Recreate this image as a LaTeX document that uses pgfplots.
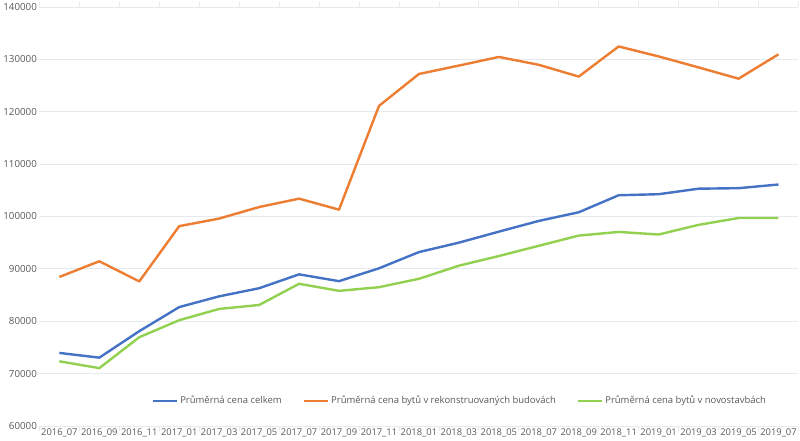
\documentclass[border=0pt]{standalone}
\usepackage{fontspec}
\setmainfont{Open Sans}
\usepackage{pgfplots}
\pgfplotsset{compat=1.18}
\definecolor{cblue}{HTML}{4472C4}
\definecolor{corange}{HTML}{ED7D31}
\definecolor{cgreen}{HTML}{92D050}
\definecolor{ctext}{HTML}{595959}
\definecolor{cgrid}{HTML}{E6E9EE}
\newcommand{\us}{\textunderscore}
\begin{document}
\begin{tikzpicture}
\begin{axis}[
  scale only axis,
  width=758bp, height=418.5bp,
  xmin=-0.5, xmax=18.5,
  ymin=60000, ymax=140000,
  scaled y ticks=false,
  scaled x ticks=false,
  ytick={60000,70000,80000,90000,100000,110000,120000,130000,140000},
  yticklabels={60000,70000,80000,90000,100000,110000,120000,130000,140000},
  xtick={0,...,18},
  xticklabels={2016\us07,2016\us09,2016\us11,2017\us01,2017\us03,2017\us05,2017\us07,2017\us09,2017\us11,2018\us01,2018\us03,2018\us05,2018\us07,2018\us09,2018\us11,2019\us01,2019\us03,2019\us05,2019\us07},
  minor xtick={-0.5,0.5,...,18.5},
  major tick length=0pt,
  minor tick length=5bp,
  tick align=outside,
  minor tick style={draw=cgrid, line width=0.8bp},
  axis line style={draw=none},
  ymajorgrids,
  major grid style={draw=cgrid, line width=0.8bp},
  tick label style={font=\fontsize{9.8}{11}\selectfont, text=ctext},
  xticklabel style={yshift=1bp, font=\fontsize{9.4}{11}\selectfont},
  yticklabel style={xshift=1bp},
  legend style={at={(0.554,0.06)}, anchor=center, draw=none, fill=none,
    font=\fontsize{9.5}{11}\selectfont, text=ctext,
    /tikz/every even column/.append style={column sep=19bp}},
  legend columns=3,
  legend image code/.code={\draw[#1, line width=2.4bp] (0bp,0bp) -- (24bp,0bp);},
  every axis plot/.append style={line width=2.4bp, line join=round},
]
\addplot[cblue] coordinates {
(0,73950) (1,73050) (2,78100) (3,82700) (4,84750) (5,86300) (6,88950) (7,87650) (8,90100) (9,93200) (10,95000) (11,97100) (12,99150) (13,100800) (14,104050) (15,104250) (16,105300) (17,105400) (18,106100)};
\addlegendentry{Průměrná cena celkem}
\addplot[corange] coordinates {
(0,88450) (1,91450) (2,87600) (3,98150) (4,99600) (5,101800) (6,103400) (7,101300) (8,121100) (9,127200) (10,128800) (11,130450) (12,128950) (13,126700) (14,132450) (15,130550) (16,128450) (17,126300) (18,130950)};
\addlegendentry{Průměrná cena bytů v rekonstruovaných budovách}
\addplot[cgreen] coordinates {
(0,72350) (1,71050) (2,76950) (3,80200) (4,82350) (5,83100) (6,87150) (7,85800) (8,86500) (9,88100) (10,90600) (11,92450) (12,94400) (13,96350) (14,97050) (15,96550) (16,98400) (17,99700) (18,99700)};
\addlegendentry{Průměrná cena bytů v novostavbách}
\end{axis}
\end{tikzpicture}
\end{document}
